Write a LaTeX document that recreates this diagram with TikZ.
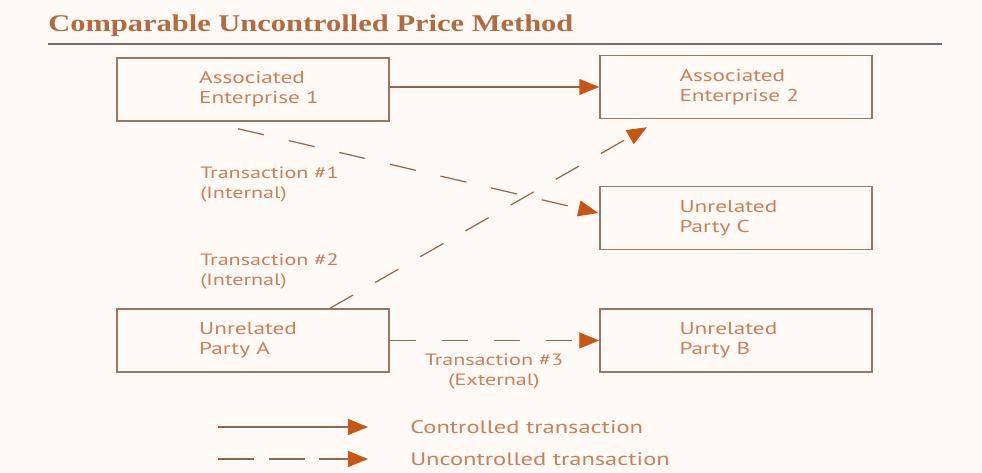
\documentclass[tikz,border=0pt]{standalone}
\usepackage{fontspec}
\setmainfont{PT Sans}[FakeStretch=1.35]
\newfontfamily\titlefont{Liberation Serif}[FakeStretch=1.27]
\usetikzlibrary{arrows.meta, positioning, calc}

\definecolor{bgc}{RGB}{255,250,246}
\definecolor{titlec}{RGB}{178,106,62}
\definecolor{rulec}{RGB}{125,105,95}
\definecolor{boxc}{RGB}{150,120,100}
\definecolor{txtc}{RGB}{200,128,88}
\definecolor{linec}{RGB}{150,100,70}
\definecolor{tipc}{RGB}{200,85,20}

\tikzset{
  party/.style={draw=boxc, line width=1.1pt, minimum width=204pt, minimum height=47.25pt, inner sep=0pt},
  partytext/.style={text=txtc, align=left, inner sep=0pt, font=\fontsize{12.9}{15}\selectfont},
  transtext/.style={text=txtc, inner sep=0pt, font=\fontsize{12.3}{15}\selectfont},
  legtext/.style={text=txtc, inner sep=0pt, font=\fontsize{13.6}{15}\selectfont},
  ctrl/.style={draw=linec, line width=0.9pt, -{Triangle[length=15pt, width=12pt, color=tipc]}},
  uctrl/.style={ctrl, dash pattern=on 20pt off 19pt},
  legdash/.style={ctrl, dash pattern=on 27pt off 11pt}
}

\begin{document}
\begin{tikzpicture}[x=0.75pt, y=-0.75pt]

% Page
\fill[bgc] (0,0) rectangle (982,473);
\useasboundingbox (0,0) rectangle (982,473);

% Title and rule
\node[anchor=base west, inner sep=0pt, text=titlec] (title) at (48,32)
  {\titlefont\bfseries\fontsize{18}{20}\selectfont Comparable Uncontrolled Price Method};
\draw[rulec, line width=1.1pt] (48,44) -- (942,44);

% Boxes
\node[party] (ae1) at (253,89.5) {};
\node[party] (ae2) at (736,87) {};
\node[party] (upc) at (736,218) {};
\node[party] (upa) at (253,340.5) {};
\node[party] (upb) at (736,340.5) {};

% Box texts
\node[partytext, right=62pt of ae1.west] (ae1t) {Associated\\Enterprise 1};
\node[partytext, right=60pt of ae2.west] (ae2t) {Associated\\Enterprise 2};
\node[partytext, right=60pt of upc.west] (upct) {Unrelated\\Party C};
\node[partytext, right=62pt of upa.west] (upat) {Unrelated\\Party A};
\node[partytext, right=60pt of upb.west] (upbt) {Unrelated\\Party B};

% Controlled transaction
\draw[ctrl] (ae1.east |- ae2.west) -- (ae2.west);

% Transaction #1
\coordinate (t1s) at ($(ae1.south)+(-15,7)$);
\coordinate (t1e) at ($(upc.west)+(-1,-5)$);
\draw[uctrl] (t1s) -- (t1e);

% Transaction #2
\coordinate (t2s) at ($(upa.north)+(77,0)$);
\coordinate (t2e) at ($(ae2.south)+(-89,8)$);
\draw[uctrl] (t2s) -- (t2e);

% Transaction #3
\draw[uctrl] (upa.east) -- (upb.west);

% Transaction labels
\node[transtext, anchor=west, align=left] (tr1) at (200,184) {Transaction \#1\\(Internal)};
\node[transtext, anchor=west, align=left] (tr2) at (200,271) {Transaction \#2\\(Internal)};
\node[transtext, align=center] (tr3) at (494,372) {Transaction \#3\\(External)};

% Legend
\coordinate (lg1s) at (218,427);
\coordinate (lg1e) at (368,427);
\coordinate (lg2s) at (218,459);
\coordinate (lg2e) at (368,459);
\draw[ctrl] (lg1s) -- (lg1e);
\draw[legdash] (lg2s) -- (lg2e);
\node[legtext, anchor=west] (lg1t) at (410,427) {Controlled transaction};
\node[legtext, anchor=west] (lg2t) at (410,459) {Uncontrolled transaction};

\end{tikzpicture}
\end{document}
